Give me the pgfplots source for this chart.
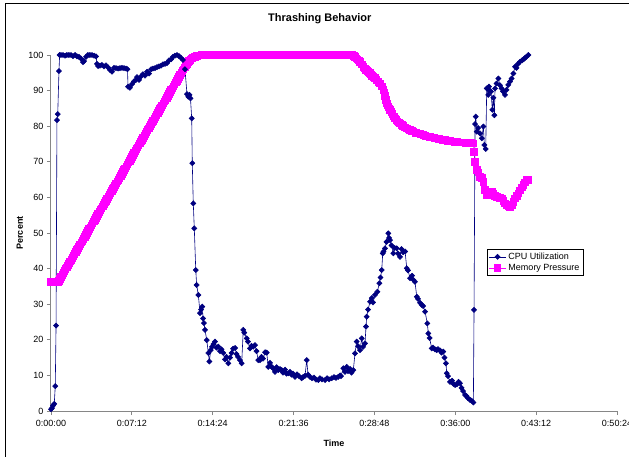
\documentclass[border=0pt]{standalone}
\usepackage{pgfplots}
\pgfplotsset{compat=1.18}
\usepackage{fontspec}
\setmainfont{Liberation Sans}
\definecolor{cpunavy}{RGB}{0,0,128}
\definecolor{mempink}{RGB}{255,0,255}
\definecolor{axgray}{RGB}{134,134,134}
\begin{document}
\begin{tikzpicture}
\useasboundingbox (-51pt,-45pt) rectangle (578pt,411pt);
\clip (-51pt,-45pt) rectangle (578pt,411pt);
\fill[white] (-51pt,-45pt) rectangle (578pt,411pt);
\draw[black, line width=0.9pt] (-46pt,-80pt) -- (-46pt,408pt) -- (640pt,408pt);
\begin{axis}[
  scale only axis, width=566pt, height=356pt,
  at={(0pt,0pt)}, anchor=south west,
  xmin=0, xmax=50.4, ymin=0, ymax=100,
  axis x line*=bottom, axis y line*=left,
  axis line style={axgray, line width=1pt, -},
  xtick={0,7.2,14.4,21.6,28.8,36,43.2,50.4},
  xticklabels={0:00:00,0:07:12,0:14:24,0:21:36,0:28:48,0:36:00,0:43:12,0:50:24},
  ytick={0,10,20,30,40,50,60,70,80,90,100},
  tick align=outside, major tick length=4pt,
  tick style={axgray, line width=0.8pt},
  tick label style={font=\fontsize{9}{10}\selectfont, black},
  xticklabel style={yshift=-2pt},
  /pgf/number format/assume math mode=true,
  clip=false,
  title={Thrashing Behavior},
  title style={at={(axis description cs:0.475,1.084)}, anchor=center, font=\fontsize{11}{12}\selectfont\bfseries},
  xlabel={Time},
  xlabel style={at={(axis description cs:0.5,-0.09)}, anchor=center, font=\fontsize{9}{10}\selectfont\bfseries},
  ylabel={Percent},
  ylabel style={at={(axis description cs:-0.055,0.5)}, anchor=center, rotate=0, font=\fontsize{9}{10}\selectfont\bfseries},
  legend style={at={(axis description cs:0.770,0.455)}, anchor=north west, draw=black, line width=0.6pt,
    font=\fontsize{9}{10}\selectfont, inner sep=1.5pt, row sep=-0.5pt, cells={anchor=west}},
  reverse legend,
]
\addplot[mempink, line width=0.8pt, mark=square*, mark size=3.3pt, mark options={solid, draw=mempink, fill=mempink}] table {
t v
0.00 36.2
0.15 36.2
0.30 36.2
0.45 36.2
0.60 36.3
0.7 36.63
0.8 37.16
0.9 37.70
1.0 38.23
1.1 38.77
1.2 39.30
1.3 39.84
1.4 40.37
1.5 40.91
1.6 41.44
1.7 41.98
1.8 42.51
1.9 43.05
2.0 43.58
2.1 44.12
2.2 44.65
2.3 45.19
2.4 45.72
2.5 46.26
2.6 46.79
2.7 47.33
2.8 47.86
2.9 48.40
3.0 48.93
3.1 49.47
3.2 50.00
3.3 50.54
3.4 51.07
3.5 51.61
3.6 52.14
3.7 52.68
3.8 53.21
3.9 53.75
4.0 54.28
4.1 54.82
4.2 55.35
4.3 55.89
4.4 56.42
4.5 56.96
4.6 57.49
4.7 58.03
4.8 58.56
4.9 59.10
5.0 59.63
5.1 60.17
5.2 60.70
5.3 61.24
5.4 61.77
5.5 62.31
5.6 62.84
5.7 63.38
5.8 63.91
5.9 64.45
6.0 64.98
6.1 65.52
6.2 66.05
6.3 66.59
6.4 67.12
6.5 67.66
6.6 68.19
6.7 68.73
6.8 69.26
6.9 69.80
7.0 70.33
7.1 70.87
7.2 71.40
7.3 71.94
7.4 72.47
7.5 73.01
7.6 73.54
7.7 74.08
7.8 74.61
7.9 75.15
8.0 75.68
8.1 76.22
8.2 76.75
8.3 77.29
8.4 77.82
8.5 78.36
8.6 78.89
8.7 79.43
8.8 79.96
8.9 80.50
9.0 81.03
9.1 81.57
9.2 82.10
9.3 82.64
9.4 83.17
9.5 83.71
9.6 84.24
9.7 84.78
9.8 85.31
9.9 85.85
10.0 86.38
10.1 86.92
10.2 87.45
10.3 87.99
10.4 88.52
10.5 89.06
10.6 89.59
10.7 90.13
10.8 90.66
10.9 91.20
11.0 91.73
11.1 92.27
11.2 92.80
11.3 93.34
11.4 93.87
11.5 94.41
11.6 94.94
11.7 95.48
11.8 96.01
11.9 96.55
12.0 97.08
12.1 97.55
12.2 98.0
12.3 98.4
12.4 98.7
12.5 99.0
12.6 99.2
12.8 99.5
13.0 99.7
13.2 99.85
13.4 99.95
13.6 100
13.9 100
14.2 100
14.5 100
14.8 100
15.1 100
15.4 100
15.7 100
16.0 100
16.3 100
16.6 100
16.9 100
17.2 100
17.5 100
17.8 100
18.1 100
18.4 100
18.7 100
19.0 100
19.3 100
19.6 100
19.9 100
20.2 100
20.5 100
20.8 100
21.1 100
21.4 100
21.7 100
22.0 100
22.3 100
22.6 100
22.9 100
23.2 100
23.5 100
23.8 100
24.1 100
24.4 100
24.7 100
25.0 100
25.3 100
25.6 100
25.9 100
26.2 100
26.5 100
26.8 100
26.95 99.8
27.07 99.5
27.20 99.1
27.30 98.8
27.41 98.5
27.52 98.1
27.66 97.4
27.81 96.7
27.93 96.2
28.05 95.8
28.16 95.5
28.26 95.3
28.38 94.9
28.50 94.5
28.60 94.2
28.70 93.9
28.85 93.5
28.99 93.0
29.15 92.5
29.30 92.0
29.45 91.2
29.59 90.2
29.67 89.4
29.74 88.5
29.82 87.4
29.89 86.4
29.97 85.9
30.05 85.4
30.12 85.0
30.19 84.6
30.30 84.0
30.41 83.4
30.52 82.8
30.63 82.2
30.75 81.8
30.86 81.4
30.97 81.1
31.08 80.8
31.22 80.4
31.35 80.1
31.52 79.7
31.68 79.4
31.83 79.1
31.97 78.9
32.12 78.7
32.26 78.5
32.47 78.2
32.68 78.0
32.90 77.8
33.15 77.5
33.35 77.3
33.57 77.1
33.75 76.95
33.93 76.8
34.15 76.7
34.35 76.6
34.55 76.45
34.73 76.3
34.90 76.2
35.09 76.1
35.30 75.95
35.53 75.8
35.75 75.7
35.98 75.6
36.15 75.55
36.33 75.5
36.52 75.45
36.72 75.4
36.92 75.35
37.13 75.3
37.37 75.25
37.61 75.2
37.67 72.8
37.76 70.0
37.91 67.7
38.05 67.0
38.20 65.8
38.36 65.5
38.50 64.4
38.65 62.1
38.80 60.7
38.96 61.2
39.09 61.6
39.24 61.6
39.40 61.0
39.54 60.5
39.70 60.2
39.85 60.0
39.98 59.9
40.13 59.7
40.30 59.0
40.43 58.3
40.58 57.9
40.72 57.6
40.87 57.4
41.02 57.8
41.17 58.8
41.32 59.7
41.47 60.5
41.61 61.1
41.76 62.0
41.91 62.8
42.06 63.5
42.21 64.2
42.36 64.9
42.50 65.0
};
\addlegendentry{Memory Pressure}
\addplot[cpunavy, line width=0.6pt, mark=square*, mark size=1.8pt, mark options={solid, rotate=45, draw=cpunavy, fill=cpunavy}] table {
t v
0.00 0.5
0.09 0.8
0.18 1.5
0.29 2
0.38 7
0.45 24
0.53 81.7
0.60 83.4
0.71 95.5
0.77 100
0.89 100
1.07 100
1.25 99.8
1.42 100
1.60 100
1.78 100
1.96 99.7
2.14 100
2.32 99.6
2.49 99.5
2.67 99
2.85 98
2.94 98.3
3.12 99.5
3.29 100
3.47 100
3.65 100
3.83 99.8
4.01 99.6
4.10 97.5
4.19 96.9
4.36 97
4.54 97.2
4.72 96.8
4.90 97.1
5.08 96.5
5.25 95.8
5.43 95.3
5.61 96.4
5.79 96.3
5.97 96.2
6.14 96.3
6.32 96.4
6.50 96.3
6.68 96.2
6.81 96
6.86 91.1
7.03 90.8
7.21 91.8
7.39 92.6
7.57 93
7.66 93.8
7.84 93
8.01 94
8.19 94.6
8.37 94.2
8.55 95.3
8.73 94.8
8.91 96
9.08 96.2
9.26 96.3
9.44 96.6
9.62 96.8
9.80 97
9.97 97.4
10.15 97.5
10.33 97.7
10.51 98.5
10.69 98.8
10.86 99.5
11.04 99.8
11.22 100
11.40 99.7
11.58 99.2
11.75 98.6
11.93 96
12.11 89
12.23 88.3
12.33 88.8
12.42 87.8
12.53 82.2
12.58 69.6
12.67 58.3
12.76 51.3
12.89 39.6
12.97 35.4
13.12 32.6
13.27 27.5
13.36 28.5
13.47 29.3
13.54 26
13.62 24.7
13.71 22.8
13.87 19.9
14.01 16.3
14.10 13.9
14.22 17.1
14.34 18
14.47 18.8
14.60 19.5
14.74 17.8
14.90 18.1
15.05 16.8
15.18 17.3
15.34 16.3
15.49 14.5
15.63 15.2
15.79 13.4
15.94 15
16.09 16.3
16.21 17.5
16.39 17.7
16.52 16
16.65 15.2
16.83 14.3
16.98 13.4
17.12 22.8
17.21 22
17.43 20.4
17.54 19.5
17.72 17.6
17.85 18.3
18.01 18.1
18.17 18.5
18.30 16.8
18.46 14.3
18.61 14.3
18.75 15.2
18.88 14.7
19.06 16.5
19.21 16.4
19.35 12.4
19.50 13.5
19.65 12.4
19.77 12
19.95 11
20.08 12.3
20.24 11.5
20.39 11.8
20.54 11.5
20.66 10.8
20.84 11.6
20.97 10.5
21.13 10.6
21.28 11
21.42 10.2
21.55 10.5
21.73 9.6
21.91 10.3
22.08 9.8
22.32 9.2
22.44 9.5
22.62 9.9
22.77 14.3
22.89 10.2
23.06 9.6
23.24 9.2
23.42 9.4
23.60 8.8
23.80 8.7
23.95 9.2
24.13 8.9
24.40 8.7
24.58 9.2
24.76 8.9
25.00 9.2
25.20 9.5
25.38 9.3
25.58 9.6
25.74 10
25.82 9.8
26.03 12
26.18 11
26.33 12.4
26.45 11.2
26.63 11.8
26.76 10.8
26.92 11.5
27.07 16.2
27.22 19.5
27.34 18.2
27.52 17.1
27.67 20.4
27.78 18
27.96 19
28.05 23.7
28.11 26.5
28.23 28.5
28.41 30.7
28.56 31.7
28.67 30.5
28.85 32.6
29.06 33.5
29.24 35.9
29.34 37.5
29.45 39.6
29.54 44.3
29.61 44.8
29.74 45.7
29.88 47.5
30.04 49.9
30.10 48.6
30.19 48
30.32 46.5
30.48 44.3
30.59 45.8
30.78 45.7
30.90 44.2
31.08 43.3
31.21 45.5
31.35 44.6
31.53 44.8
31.68 40.1
31.79 39.5
31.97 37.3
32.15 38
32.28 36.8
32.41 36.3
32.57 32.1
32.68 31.5
32.86 30.4
33.01 29.8
33.13 29.5
33.31 27.9
33.51 24.6
33.60 21.8
33.71 20.5
33.90 17.6
34.02 17.8
34.20 17.3
34.35 17.1
34.46 17.4
34.64 17
34.77 16.4
34.93 16.7
35.04 15
35.17 13.4
35.24 10.6
35.35 9.8
35.53 8.2
35.71 8.5
35.84 7.6
35.98 7.3
36.15 7.5
36.29 8.2
36.42 7.8
36.56 6.5
36.69 5.6
36.87 4.5
37.00 4.2
37.13 3.6
37.31 3.1
37.45 2.9
37.61 2.4
37.67 28.4
37.76 80.6
37.82 82.7
37.91 78.5
38.03 79.5
38.20 78
38.36 76.6
38.50 79.9
38.59 74.7
38.71 73.6
38.80 90.6
38.94 88.8
39.00 91.1
39.09 90
39.18 89.7
39.30 84.6
39.39 88
39.48 83.1
39.54 90.6
39.67 92
39.83 93.4
39.98 91.5
40.13 90.6
40.25 89.8
40.43 88.8
40.56 90.2
40.72 91.6
40.87 92.5
41.02 93.4
41.17 94.8
41.32 96.7
41.45 96.4
41.59 97.5
41.76 98.1
41.94 98.5
42.08 98.8
42.21 99.2
42.34 99.5
42.50 100
};
\addlegendentry{CPU Utilization}
\end{axis}
\end{tikzpicture}
\end{document}
